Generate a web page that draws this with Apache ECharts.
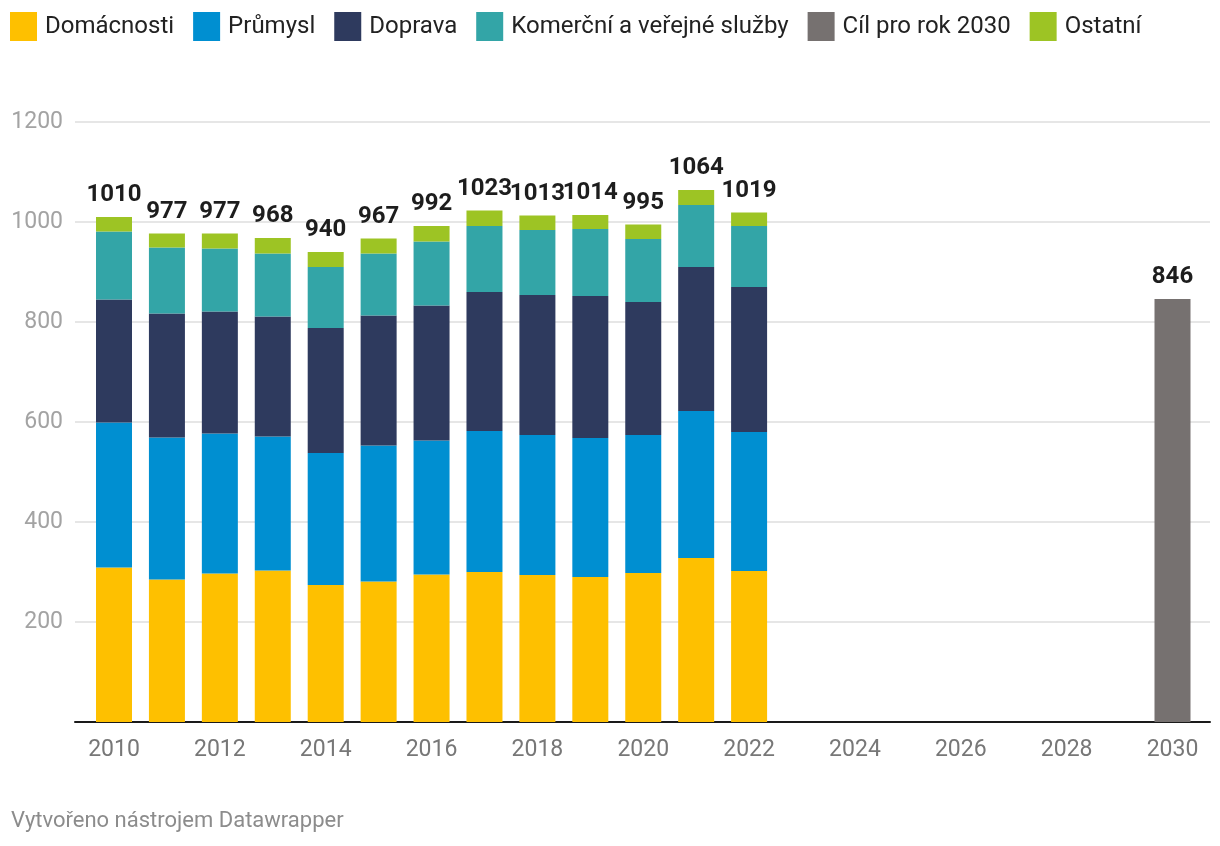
<!DOCTYPE html>
<html>
<head>
<meta charset="utf-8">
<script src="https://cdn.jsdelivr.net/npm/echarts@6/dist/echarts.min.js"></script>
<style>
html,body{margin:0;padding:0;background:#fff;}
#chart{width:1220px;height:846px;}
</style>
</head>
<body>
<div id="chart"></div>
<script>
const categories = ['2010', '2011', '2012', '2013', '2014', '2015', '2016', '2017', '2018', '2019', '2020',
                    '2021', '2022', '2023', '2024', '2025', '2026', '2027', '2028', '2029', '2030'];
// values for 2010–2022
const domacnosti = [309, 285, 297, 303, 274, 281, 295, 300, 294, 290, 298, 328, 302];
const prumysl    = [290, 284, 280, 268, 264, 272, 268, 282, 280, 278, 276, 294, 278];
const doprava    = [246, 248, 244, 240, 250, 260, 270, 278, 280, 284, 266, 288, 290];
const komercni   = [136, 132, 126, 126, 122, 124, 128, 132, 130, 134, 126, 124, 122];
const ostatni    = [29, 28, 30, 31, 30, 30, 31, 31, 29, 28, 29, 30, 27];
const targetYear = '2030';
const targetValue = 846;

const totals = domacnosti.map((v, i) => v + prumysl[i] + doprava[i] + komercni[i] + ostatni[i]);

function pad(arr) { return categories.map((c, i) => (i < arr.length ? arr[i] : '-')); }
const targetData = categories.map(c => (c === targetYear ? targetValue : '-'));

const FONT = 'Roboto';
const chart = echarts.init(document.getElementById('chart'), null, {renderer: 'canvas'});

const labelStyle = {
  show: true,
  position: 'top',
  distance: 10,
  fontFamily: FONT,
  fontWeight: 'bold',
  fontSize: 24,
  color: '#1d1d1d'
};

function barSeries(name, arr, color, withLabel) {
  const s = {
    name: name,
    type: 'bar',
    stack: 'total',
    xAxisIndex: 1,
    yAxisIndex: 1,
    barWidth: 36,
    data: pad(arr),
    itemStyle: {color: color},
    emphasis: {disabled: true}
  };
  if (withLabel) {
    s.label = Object.assign({}, labelStyle, {formatter: p => String(totals[p.dataIndex])});
  }
  return s;
}

const option = {
  animation: false,
  textStyle: {fontFamily: FONT},
  title: {
    text: 'Vytvořeno nástrojem Datawrapper',
    left: 11,
    top: 810,
    padding: 0,
    textStyle: {fontFamily: FONT, fontWeight: 'normal', fontSize: 22, color: '#8c8c8c'}
  },
  legend: {
    left: 10,
    top: 12,
    padding: 0,
    itemWidth: 27,
    itemHeight: 29,
    itemGap: 19,
    icon: 'rect',
    textStyle: {fontFamily: FONT, fontSize: 24, color: '#222', padding: [0, 0, 0, 3]},
    data: ['Domácnosti', 'Průmysl', 'Doprava', 'Komerční a veřejné služby', 'Cíl pro rok 2030', 'Ostatní']
  },
  grid: [
    {left: 75, right: 10, top: 122, bottom: 124},
    {left: 87.54, right: 21.04, top: 122, bottom: 124}
  ],
  xAxis: [
    {
      type: 'value', gridIndex: 0, min: 0, max: 1,
      axisLine: {show: true, lineStyle: {color: '#1a1a1a', width: 2}},
      axisTick: {show: false}, axisLabel: {show: false}, splitLine: {show: false}
    },
    {
      type: 'category', gridIndex: 1, data: categories,
      axisLine: {show: false}, axisTick: {show: false}, splitLine: {show: false},
      axisLabel: {interval: 1, margin: 17, fontFamily: FONT, fontSize: 23, color: '#777'}
    }
  ],
  yAxis: [
    {
      type: 'value', gridIndex: 0, min: 0, max: 1200, interval: 200,
      axisLine: {show: false}, axisTick: {show: false},
      splitLine: {show: true, lineStyle: {color: '#e6e6e6', width: 2}},
      axisLabel: {
        showMinLabel: false, margin: 12, fontFamily: FONT, fontSize: 23, color: '#a3a3a3',
        formatter: v => String(v)
      }
    },
    {
      type: 'value', gridIndex: 1, min: 0, max: 1200, interval: 200,
      axisLine: {show: false}, axisTick: {show: false}, splitLine: {show: false}, axisLabel: {show: false}
    }
  ],
  series: [
    barSeries('Domácnosti', domacnosti, '#fec000', false),
    barSeries('Průmysl', prumysl, '#008fd1', false),
    barSeries('Doprava', doprava, '#2e3a5e', false),
    barSeries('Komerční a veřejné služby', komercni, '#33a5a7', false),
    barSeries('Ostatní', ostatni, '#9dc424', true),
    {
      name: 'Cíl pro rok 2030',
      type: 'bar',
      stack: 'total',
      xAxisIndex: 1,
      yAxisIndex: 1,
      barWidth: 36,
      data: targetData,
      itemStyle: {color: '#767170'},
      emphasis: {disabled: true},
      label: labelStyle
    }
  ]
};
chart.setOption(option);
</script>
</body>
</html>
